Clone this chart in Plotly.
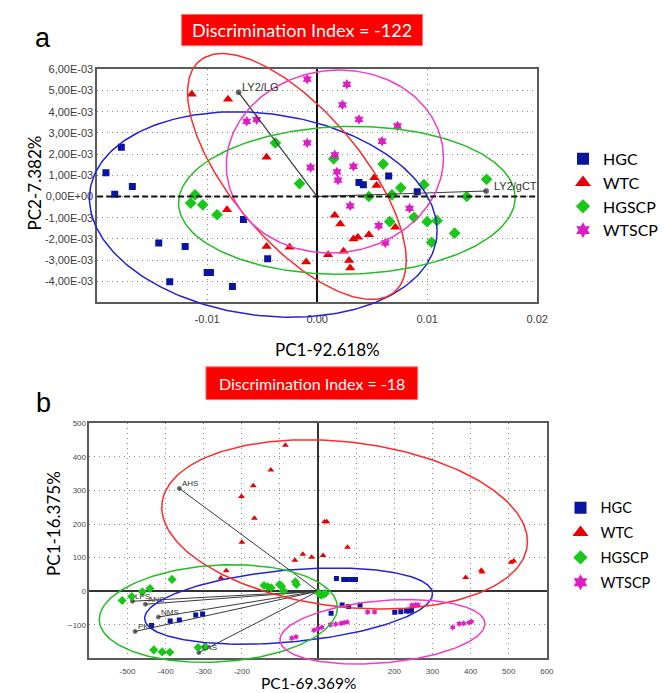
import numpy as np
import plotly.graph_objects as go

W, H = 664, 693

# ---------------- Panel a data ----------------
a_hgc_x = [-0.0192, -0.0178, -0.0184, -0.0168, -0.0144, -0.0120, -0.0134, -0.0100, -0.0097, -0.0077, -0.0067, -0.0045, 0.0038, 0.0042, 0.0065, 0.0091]
a_hgc_y = [0.00112, 0.00233, 0.00011, 0.00047, -0.00220, -0.00236, -0.00402, -0.00359, -0.00359, -0.00425, -0.00109, -0.00294, 0.00066, 0.00056, 0.00097, 0.00022]

a_wtc_x = [-0.0114, -0.0081, -0.0046, -0.0082, -0.0046, -0.0025, -0.0010, 0.0010, 0.0016, 0.0021, 0.0024, 0.0029, 0.0030, 0.0033, 0.0037, 0.0047, 0.0052, 0.0054, 0.0071]
a_wtc_y = [0.00483, 0.00459, 0.00186, -0.00063, -0.00236, -0.00239, -0.00309, -0.00275, -0.00088, -0.00130, -0.00258, -0.00302, -0.00338, -0.00200, -0.00192, -0.00180, 0.00089, 0.00052, -0.00145]

a_hgscp_x = [-0.0111, -0.0115, -0.0104, -0.0091, -0.0038, -0.0016, 0.0015, 0.0060, 0.0047, 0.0068, 0.0076, 0.0097, 0.0136, 0.0154, 0.0088, 0.0066, 0.0100, 0.0109, 0.0125, 0.0104]
a_hgscp_y = [0.00008, -0.00031, -0.00039, -0.00086, 0.00253, 0.00061, 0.00178, 0.00153, 0.00000, 0.00008, 0.00041, 0.00056, 0.00000, 0.00081, -0.00098, -0.00119, -0.00119, -0.00114, -0.00173, -0.00216]

a_wtscp_x = [-0.0009, 0.0027, 0.0023, 0.0038, 0.0073, -0.0064, -0.0055, -0.0009, 0.0059, 0.0016, 0.0033, -0.0006, 0.0018, 0.0019, 0.0030, 0.0084, 0.0056, 0.0062]
a_wtscp_y = [0.00554, 0.00530, 0.00433, 0.00364, 0.00333, 0.00355, 0.00363, 0.00253, 0.00261, 0.00197, 0.00142, 0.00137, 0.00116, 0.00077, -0.00044, -0.00056, -0.00138, -0.00219]

# ellipses: xmin, xmax, ymin, ymax, y at xmax  (order HGC, WTC, HGSCP, WTSCP)
a_ell_xmin = [-0.0207, -0.01178, -0.0126, -0.00826]
a_ell_xmax = [0.0109, 0.0081, 0.0180, 0.01148]
a_ell_ymin = [-0.0057, -0.00486, -0.00367, -0.00267]
a_ell_ymax = [0.0040, 0.00675, 0.00331, 0.00597]
a_ell_yatxmax = [-0.00161, -0.00302, -0.00005, 0.00183]

a_vec_names = ["LY2/LG", "LY2/gCT"]
a_vec_x = [-0.00714, 0.01536]
a_vec_y = [0.00492, 0.00026]

a_ytick_vals = [0.006, 0.005, 0.004, 0.003, 0.002, 0.001, 0.0, -0.001, -0.002, -0.003, -0.004]
a_ytick_text = ["6,00E-03", "5,00E-03", "4,00E-03", "3,00E-03", "2,00E-03", "1,00E-03", "0,00E+00",
                "-1,00E-03", "-2,00E-03", "-3,00E-03", "-4,00E-03"]
a_xtick_vals = [-0.01, 0.0, 0.01, 0.02]
a_xtick_text = ["-0.01", "0.00", "0.01", "0.02"]

# ---------------- Panel b data ----------------
b_hgc_x = [-437, -388, -364, -321, -303, 48, 67, 76, 88, 98, 34, 63, 80, 110, 201, 217, 232, 239, 245]
b_hgc_y = [-102, -89, -86, -71, -68, 38, 35, 35, 35, 35, -66, -41, -46, -41, -63, -61, -59, -59, -57]

b_wtc_x = [-86, -124, -170, -201, -167, -200, 17, 23, -61, -40, -17, 13, -241, -255, 77, 387, 428, 430, 506, 513]
b_wtc_y = [435, 361, 314, 282, 217, 146, 207, 207, 92, 110, 101, 106, 61, 39, 131, 41, 62, 57, 86, 90]

b_hgscp_x = [-514, -489, -461, -441, -383, -431, -409, -389, -315, -296, -142, -132, -123, -101, -96, -91, -60, -57, 2, 8, 14, 19]
b_hgscp_y = [-28, -16, -2, 8, 35, -175, -181, -182, -168, -166, 17, 13, 10, 20, 15, 1, 28, 20, -6, -12, -9, -7]

b_wtscp_x = [-69, -58, -11, 0, 10, 32, 46, 60, 68, 76, 130, 148, 246, 256, 262, 353, 370, 382, 396, 402]
b_wtscp_y = [-140, -136, -116, -112, -108, -100, -98, -96, -94, -92, -62, -62, -42, -41, -41, -108, -97, -96, -94, -91]

b_ell_xmin = [-455, -410, -574, -100]
b_ell_xmax = [300, 549, 50.5, 437.5]
b_ell_ymin = [-158, -53, -212, -217]
b_ell_ymax = [69, 451, 79, -25]
b_ell_yatxmax = [-8, 148, -49, -97]

b_vec_names = ["AHS", "LPS", "ANS", "NMS", "PKS", "LAS"]
b_vec_x = [-364, -487, -453, -419, -480, -313]
b_vec_y = [306, -30, -39, -77, -120, -183]

b_xtick_vals = [-500, -400, -300, -200, -100, 0, 100, 200, 300, 400, 500, 600]
b_xtick_text = ["-500", "-400", "-300", "-200", "", "", "", "200", "300", "400", "500", "600"]
b_ytick_vals = [500, 400, 300, 200, 100, 0, -100]

groups = ["HGC", "WTC", "HGSCP", "WTSCP"]
colors = ["#0A149E", "#E80000", "#18C818", "#DC1EC4"]
ell_colors = ["#2323D6", "#FF2B2B", "#22BE22", "#F23CC8"]
symbols = ["square", "triangle-up", "diamond", "hexagram"]

# ---------------- layout geometry (pixels) ----------------
A_L, A_R, A_T, A_B = 100, 553, 64, 299
B_L, B_R, B_T, B_B = 92, 563, 421, 658
A_XR, A_YR = [-0.02, 0.02], [-0.005, 0.006]
B_XR, B_YR = [-600, 600], [-200, 500]
PAD = 34


def dom_x(l, r):
    return [l / W, r / W]


def dom_y(t, b):
    return [1 - b / H, 1 - t / H]


def ext_range(rng, lo_px, hi_px):
    per = (rng[1] - rng[0]) / (hi_px - lo_px)
    return [rng[0] - PAD * per, rng[1] + PAD * per]


fig = go.Figure()


def ellipse(xmin, xmax, ymin, ymax, yr):
    t = np.linspace(0, 2 * np.pi, 241)
    cx, cy = (xmin + xmax) / 2, (ymin + ymax) / 2
    w, hh = (xmax - xmin) / 2, (ymax - ymin) / 2
    d = yr - cy
    h = np.sqrt(max(hh ** 2 - d ** 2, 0))
    return cx + w * np.cos(t), cy + d * np.cos(t) + h * np.sin(t)


# panel a points
a_sets = [(a_hgc_x, a_hgc_y), (a_wtc_x, a_wtc_y), (a_hgscp_x, a_hgscp_y), (a_wtscp_x, a_wtscp_y)]
a_sizes = [7, 9, 9, 8]
for i, (xs, ys) in enumerate(a_sets):
    fig.add_trace(go.Scatter(x=xs, y=ys, mode="markers", xaxis="x", yaxis="y", showlegend=False,
                             marker=dict(symbol=symbols[i], size=a_sizes[i], color=colors[i], line=dict(width=0))))

# panel a vectors
for nm, vx, vy in zip(a_vec_names, a_vec_x, a_vec_y):
    fig.add_trace(go.Scatter(x=[0, vx], y=[0, vy], mode="lines+markers", xaxis="x", yaxis="y", showlegend=False,
                             line=dict(color="#3a3a3a", width=1.2),
                             marker=dict(size=[0, 5], color="#202020")))

# panel b points
b_sets = [(b_hgc_x, b_hgc_y), (b_wtc_x, b_wtc_y), (b_hgscp_x, b_hgscp_y), (b_wtscp_x, b_wtscp_y)]
b_sizes = [5, 6, 7, 5]
for nm, vx, vy in zip(b_vec_names, b_vec_x, b_vec_y):
    fig.add_trace(go.Scatter(x=[0, vx], y=[0, vy], mode="lines+markers", xaxis="x2", yaxis="y2", showlegend=False,
                             line=dict(color="#3a3a3a", width=1),
                             marker=dict(size=[0, 4], color="#202020")))
for i, (xs, ys) in enumerate(b_sets):
    fig.add_trace(go.Scatter(x=xs, y=ys, mode="markers", xaxis="x2", yaxis="y2", showlegend=False,
                             marker=dict(symbol=symbols[i], size=b_sizes[i], color=colors[i], line=dict(width=0))))

# ellipses on overlay axes (unclipped by frame)
for i in range(4):
    ex, ey = ellipse(a_ell_xmin[i], a_ell_xmax[i], a_ell_ymin[i], a_ell_ymax[i], a_ell_yatxmax[i])
    fig.add_trace(go.Scatter(x=ex, y=ey, mode="lines", xaxis="x3", yaxis="y3", showlegend=False,
                             line=dict(color=ell_colors[i], width=1.5), hoverinfo="skip"))
    ex, ey = ellipse(b_ell_xmin[i], b_ell_xmax[i], b_ell_ymin[i], b_ell_ymax[i], b_ell_yatxmax[i])
    fig.add_trace(go.Scatter(x=ex, y=ey, mode="lines", xaxis="x4", yaxis="y4", showlegend=False,
                             line=dict(color=ell_colors[i], width=1.5), hoverinfo="skip"))

# legend entries
leg_a_sizes = [12, 14, 11, 12]
leg_b_sizes = [12, 14, 11, 12]
for i, g in enumerate(groups):
    fig.add_trace(go.Scatter(x=[None], y=[None], mode="markers", name=g, xaxis="x", yaxis="y",
                             legend="legend", legendgroup="a" + g,
                             marker=dict(symbol=symbols[i], size=leg_a_sizes[i], color=colors[i])))
for i, g in enumerate(groups):
    fig.add_trace(go.Scatter(x=[None], y=[None], mode="markers", name=g, xaxis="x2", yaxis="y2",
                             legend="legend2", legendgroup="b" + g,
                             marker=dict(symbol=symbols[i], size=leg_b_sizes[i], color=colors[i])))

tick_font_a = dict(family="Arial Narrow, Liberation Sans Narrow, Arial, Liberation Sans", size=11, color="#3c3c3c")
tick_font_b = dict(family="Arial Narrow, Liberation Sans Narrow, Arial, Liberation Sans", size=8, color="#4a4a4a")
grid = dict(showgrid=True, gridcolor="#8a8a8a", gridwidth=1, griddash="1px,4px",
            showline=True, mirror=True, linecolor="#5a5a5a", linewidth=1.5, ticks="")

hidden = dict(visible=False, showgrid=False, zeroline=False, fixedrange=True)

fig.update_layout(
    width=W, height=H, margin=dict(l=0, r=0, t=0, b=0),
    paper_bgcolor="white", plot_bgcolor="rgba(0,0,0,0)",
    font=dict(family="Lato, Arial", color="black"),
    xaxis=dict(domain=dom_x(A_L, A_R), range=A_XR, anchor="y", tickvals=a_xtick_vals, ticktext=a_xtick_text,
               tickfont=tick_font_a, zeroline=True, zerolinecolor="#111", zerolinewidth=2,
               ticklabelstandoff=6, **grid),
    yaxis=dict(domain=dom_y(A_T, A_B), range=A_YR, anchor="x", tickvals=a_ytick_vals, ticktext=a_ytick_text,
               tickfont=tick_font_a, zeroline=False, **grid),
    xaxis2=dict(domain=dom_x(B_L, B_R), range=B_XR, anchor="y2", tickvals=b_xtick_vals, ticktext=b_xtick_text,
                tickfont=tick_font_b, zeroline=True, zerolinecolor="#333", zerolinewidth=1.5,
                ticklabelstandoff=4, **grid),
    yaxis2=dict(domain=dom_y(B_T, B_B), range=B_YR, anchor="x2", tickvals=b_ytick_vals,
                tickfont=tick_font_b, zeroline=True, zerolinecolor="#333", zerolinewidth=1.5, **grid),
    xaxis3=dict(domain=dom_x(A_L - PAD, A_R + PAD), range=ext_range(A_XR, A_L, A_R), anchor="y3", **hidden),
    yaxis3=dict(domain=dom_y(A_T - PAD, A_B + PAD), range=ext_range(A_YR, A_T, A_B), anchor="x3", **hidden),
    xaxis4=dict(domain=dom_x(B_L - PAD, B_R + PAD), range=ext_range(B_XR, B_L, B_R), anchor="y4", **hidden),
    yaxis4=dict(domain=dom_y(B_T - PAD, B_B + PAD), range=ext_range(B_YR, B_T, B_B), anchor="x4", **hidden),
    legend=dict(x=580 / W, y=1 - 137 / H, xanchor="left", yanchor="top", bgcolor="rgba(0,0,0,0)",
                font=dict(family="Lato, Arial", size=16, color="black"), tracegroupgap=0, itemwidth=30),
    legend2=dict(x=577 / W, y=1 - 490 / H, xanchor="left", yanchor="top", bgcolor="rgba(0,0,0,0)",
                 font=dict(family="Lato, Arial", size=14.5, color="black"), tracegroupgap=3, itemwidth=30),
)

# dashed horizontal zero line (panel a)
fig.add_shape(type="line", xref="x domain", yref="y", x0=0, x1=1, y0=0, y1=0,
              line=dict(color="#111", width=2, dash="6px,3px"))

# red title boxes
fig.add_shape(type="rect", xref="paper", yref="paper", x0=187 / W, x1=435 / W, y0=1 - 40 / H, y1=1 - 8.5 / H,
              fillcolor="#FF0000", line=dict(color="#FF7070", width=1))
fig.add_shape(type="rect", xref="paper", yref="paper", x0=212 / W, x1=430 / W, y0=1 - 397 / H, y1=1 - 364 / H,
              fillcolor="#FF0000", line=dict(color="#FF7070", width=1))

C = dict(xref="paper", yref="paper", showarrow=False, xanchor="center", yanchor="middle")
ann = []
ann.append(dict(text="Discrimination Index = -122", x=311 / W, y=1 - 24.5 / H,
                font=dict(family="Lato, Arial", size=18, color="white"), **C))
ann.append(dict(text="Discrimination Index = -18", x=321 / W, y=1 - 380.5 / H,
                font=dict(family="Lato, Arial", size=16, color="white"), **C))
ann.append(dict(text="a", x=44 / W, y=1 - 32 / H, font=dict(family="Arial, Liberation Sans", size=27, color="black"), **C))
ann.append(dict(text="b", x=45 / W, y=1 - 400 / H, font=dict(family="Arial, Liberation Sans", size=27, color="black"), **C))
ann.append(dict(text="PC1-92.618%", x=337 / W, y=1 - 346 / H, font=dict(family="Lato, Arial", size=17, color="black"), **C))
ann.append(dict(text="PC2-7.382%", x=35 / W, y=1 - 178 / H, textangle=-90,
                font=dict(family="Lato, Arial", size=17, color="black"), **C))
ann.append(dict(text="PC1-16.375%", x=55 / W, y=1 - 522 / H, textangle=-90,
                font=dict(family="Lato, Arial", size=17, color="black"), **C))
ann.append(dict(text="PC1-69.369%", x=318 / W, y=1 - 683 / H,
                font=dict(family="Lato, Arial", size=15.5, color="black"), **C))
for nm, vx, vy, xs in zip(a_vec_names, a_vec_x, a_vec_y, [1, 6]):
    ann.append(dict(text=nm, x=vx, y=vy, xref="x", yref="y", showarrow=False, xanchor="left", yanchor="middle",
                    xshift=xs, yshift=5, font=dict(family="Arial, Liberation Sans", size=11, color="#333")))
for nm, vx, vy in zip(b_vec_names, b_vec_x, b_vec_y):
    ann.append(dict(text=nm, x=vx, y=vy, xref="x2", yref="y2", showarrow=False, xanchor="left", yanchor="middle",
                    xshift=1, yshift=5, font=dict(family="Arial Narrow, Liberation Sans Narrow, Arial", size=8,
                                                 color="#333")))
fig.update_layout(annotations=ann)

fig.write_html("out.html", config={"displayModeBar": False},
               post_script="document.body.style.margin='0';")
